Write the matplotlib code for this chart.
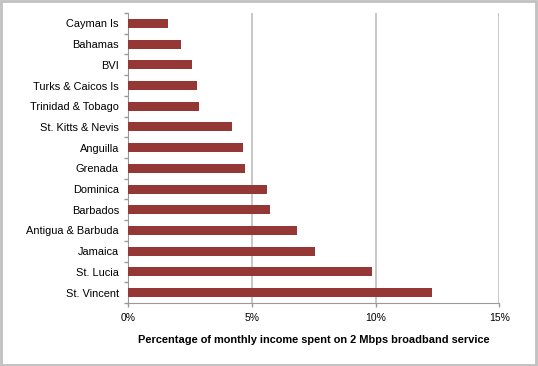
import matplotlib
matplotlib.use('Agg')
import matplotlib.pyplot as plt
from matplotlib.patches import Rectangle
import numpy as np

# Data, bottom to top
countries = ["St. Vincent", "St. Lucia", "Jamaica", "Antigua & Barbuda", "Barbados",
             "Dominica", "Grenada", "Anguilla", "St. Kitts & Nevis", "Trinidad & Tobago",
             "Turks & Caicos Is", "BVI", "Bahamas", "Cayman Is"]
pct_income = [12.28, 9.87, 7.55, 6.83, 5.73, 5.61, 4.74, 4.64, 4.20, 2.87, 2.79, 2.58, 2.14, 1.60]
xticks = [0, 5, 10, 15]
xtick_labels = ["0%", "5%", "10%", "15%"]

plt.rcParams['font.family'] = ['Liberation Sans', 'DejaVu Sans']

fig = plt.figure(figsize=(5.38, 3.66), dpi=100)
ax = fig.add_axes([128 / 538, 1 - 303 / 366, (499.3 - 128) / 538, 290 / 366])

y = np.arange(len(countries))
ax.barh(y, pct_income, height=0.44, color='#953735', zorder=3)

ax.set_xlim(0, 15)
ax.set_ylim(-0.5, len(countries) - 0.5)
ax.set_xticks(xticks)
ax.set_xticklabels(xtick_labels, fontsize=7.5)
ax.set_yticks(y)
ax.set_yticklabels(countries, fontsize=7.9)
ax.set_yticks(np.arange(-0.5, len(countries), 1), minor=True)
ax.tick_params(axis='y', which='major', length=0, pad=6.5)
ax.tick_params(axis='y', which='minor', length=3, color='#999999', width=1)
ax.tick_params(axis='x', length=3, color='#999999', width=1, pad=4)

ax.grid(axis='x', color='#bdbdbd', linewidth=1.2, zorder=0)
for side in ['top', 'right']:
    ax.spines[side].set_visible(False)
ax.spines['left'].set_color('#999999')
ax.spines['bottom'].set_color('#999999')

ax.set_xlabel("Percentage of monthly income spent on 2 Mbps broadband service",
              fontsize=7.9, fontweight='bold', labelpad=9)

# grey frame around the whole picture
fig.patches.append(Rectangle((0.002, 0.003), 0.995, 0.993, transform=fig.transFigure,
                             fill=False, edgecolor='#c0c0c0', linewidth=2))

fig.savefig("out.png", dpi=100)
